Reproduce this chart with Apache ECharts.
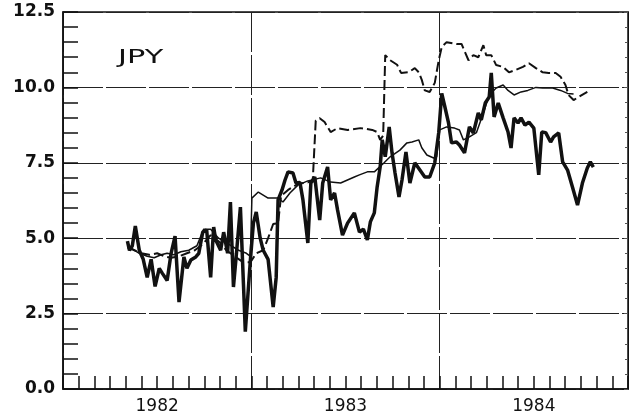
<!DOCTYPE html>
<html>
<head>
<meta charset="utf-8">
<script src="https://cdn.jsdelivr.net/npm/echarts@6/dist/echarts.min.js"></script>
<style>
html,body{margin:0;padding:0;background:#fff;}
#chart{width:631px;height:420px;}
</style>
</head>
<body>
<div id="chart"></div>
<script>
// Decimal-year time stamps and values
var yearTicks = [1982, 1983, 1984];
var thickSeries = [
[1982.342,4.9],[1982.353,4.6],[1982.368,4.75],[1982.384,5.4],[1982.405,4.6],[1982.426,4.3],
[1982.447,3.7],[1982.468,4.3],[1982.489,3.4],[1982.511,4.0],[1982.526,3.85],[1982.553,3.6],
[1982.574,4.5],[1982.595,5.07],[1982.616,2.88],[1982.642,4.38],[1982.658,4.0],[1982.679,4.28],
[1982.705,4.38],[1982.721,4.5],[1982.742,5.2],[1982.763,5.27],[1982.784,3.7],[1982.800,5.37],
[1982.811,4.94],[1982.837,4.6],[1982.853,5.2],[1982.874,4.5],[1982.889,6.2],[1982.905,3.38],
[1982.921,4.5],[1982.942,6.03],[1982.958,3.5],[1982.968,1.9],[1982.995,4.28],[1983.011,5.5],
[1983.026,5.87],[1983.047,5.0],[1983.063,4.6],[1983.089,4.3],[1983.116,2.72],[1983.132,3.7],
[1983.142,6.27],[1983.163,6.6],[1983.179,6.93],[1983.195,7.2],[1983.221,7.16],[1983.237,6.83],
[1983.258,6.85],[1983.274,6.27],[1983.300,4.84],[1983.316,6.83],[1983.337,7.03],[1983.363,5.6],
[1983.379,6.83],[1983.405,7.36],[1983.421,6.27],[1983.442,6.5],[1983.458,5.93],[1983.484,5.1],
[1983.511,5.5],[1983.547,5.84],[1983.574,5.2],[1983.595,5.3],[1983.616,4.94],[1983.632,5.54],
[1983.653,5.84],[1983.668,6.7],[1983.684,7.36],[1983.695,8.26],[1983.711,7.7],[1983.732,8.69],
[1983.747,7.83],[1983.763,7.16],[1983.784,6.37],[1983.800,6.93],[1983.821,7.86],[1983.842,6.83],
[1983.868,7.5],[1983.895,7.26],[1983.921,7.03],[1983.947,7.03],[1983.974,7.5],[1983.995,8.5],
[1984.011,9.8],[1984.026,9.4],[1984.047,8.82],[1984.063,8.16],[1984.089,8.19],[1984.105,8.09],
[1984.132,7.83],[1984.158,8.69],[1984.179,8.49],[1984.205,9.15],[1984.221,8.92],[1984.242,9.48],
[1984.263,9.68],[1984.274,10.48],[1984.289,9.02],[1984.311,9.48],[1984.337,8.99],[1984.363,8.52],
[1984.379,7.99],[1984.395,8.99],[1984.416,8.82],[1984.432,8.99],[1984.453,8.75],[1984.474,8.85],
[1984.500,8.65],[1984.526,7.1],[1984.542,8.52],[1984.563,8.5],[1984.589,8.19],[1984.605,8.36],
[1984.632,8.49],[1984.653,7.53],[1984.679,7.26],[1984.705,6.7],[1984.732,6.1],[1984.758,6.83],
[1984.784,7.33],[1984.800,7.53],[1984.816,7.36]
];
var thinSeries = [
[1982.342,4.8],[1982.368,4.65],[1982.405,4.5],[1982.447,4.4],[1982.484,4.35],[1982.521,4.45],
[1982.553,4.5],[1982.589,4.45],[1982.626,4.55],[1982.668,4.6],[1982.711,4.75],[1982.747,5.3],
[1982.784,5.3],[1982.826,5.0],[1982.879,4.8],[1982.932,4.6],[1982.974,4.5],[1982.995,4.4],
[1983.003,6.33],[1983.037,6.53],[1983.089,6.33],[1983.142,6.33],[1983.168,6.2],[1983.205,6.5],
[1983.247,6.76],[1983.300,6.9],[1983.368,7.0],[1983.421,6.86],[1983.474,6.83],[1983.547,7.03],
[1983.574,7.1],[1983.616,7.2],[1983.653,7.2],[1983.705,7.5],[1983.737,7.7],[1983.789,7.92],
[1983.826,8.16],[1983.853,8.19],[1983.889,8.26],[1983.905,8.0],[1983.932,7.76],[1983.968,7.66],
[1983.984,7.7],[1984.000,8.59],[1984.037,8.69],[1984.079,8.65],[1984.105,8.59],[1984.126,8.26],
[1984.158,8.36],[1984.195,8.5],[1984.232,9.15],[1984.263,9.75],[1984.300,9.98],[1984.337,10.08],
[1984.363,9.9],[1984.395,9.75],[1984.432,9.85],[1984.468,9.9],[1984.511,10.0],[1984.547,9.98],
[1984.600,9.98],[1984.642,9.9],[1984.679,9.8],[1984.711,9.78]
];
var dashedSeries = [
[1982.342,4.7],[1982.379,4.6],[1982.416,4.5],[1982.458,4.45],[1982.500,4.5],[1982.537,4.4],
[1982.574,4.35],[1982.616,4.4],[1982.658,4.5],[1982.700,4.6],[1982.742,4.8],[1982.784,5.1],
[1982.826,4.9],[1982.868,4.6],[1982.911,4.4],[1982.958,4.2],[1982.995,4.2],[1983.026,4.5],
[1983.063,4.6],[1983.089,5.0],[1983.116,5.47],[1983.142,5.5],[1983.158,6.4],[1983.195,6.6],
[1983.247,6.8],[1983.300,6.85],[1983.326,6.9],[1983.342,8.9],[1983.363,8.98],[1983.389,8.85],
[1983.421,8.52],[1983.458,8.65],[1983.511,8.59],[1983.579,8.65],[1983.642,8.59],[1983.668,8.52],
[1983.684,8.26],[1983.700,8.4],[1983.711,11.07],[1983.737,10.9],[1983.774,10.75],[1983.795,10.48],
[1983.837,10.51],[1983.868,10.64],[1983.889,10.5],[1983.905,10.25],[1983.921,9.9],[1983.947,9.85],
[1983.974,10.15],[1983.995,10.9],[1984.011,11.34],[1984.037,11.5],[1984.089,11.44],[1984.116,11.44],
[1984.153,10.9],[1984.179,11.07],[1984.205,11.0],[1984.232,11.4],[1984.247,11.07],[1984.274,11.07],
[1984.300,10.74],[1984.337,10.68],[1984.368,10.5],[1984.405,10.58],[1984.442,10.68],[1984.474,10.8],
[1984.511,10.64],[1984.547,10.5],[1984.579,10.48],[1984.616,10.48],[1984.642,10.35],[1984.668,10.08],
[1984.684,9.75],[1984.711,9.58],[1984.737,9.68],[1984.784,9.85]
];
var yMin = 0, yMax = 12.5, yStep = 2.5;
var seriesLabel = 'JPY';

var ink = '#111';
var chart = echarts.init(document.getElementById('chart'), null, {renderer:'canvas'});
chart.setOption({
  animation:false,
  backgroundColor:'#fff',
  grid:{left:63, right:1, top:12, bottom:31, show:true, borderColor:ink, borderWidth:1.5},
  xAxis:[
    {type:'value', min:yearTicks[0], max:yearTicks[yearTicks.length-1]+1, interval:1,
     axisLine:{show:true, lineStyle:{color:ink, width:1.5}},
     axisTick:{show:true, inside:true, length:13, lineStyle:{color:ink, width:1.5}},
     minorTick:{show:true, splitNumber:12, length:13, lineStyle:{color:ink, width:1.5}},
     splitLine:{show:true, lineStyle:{color:'#222', width:1, type:[40,3]}},
     axisLabel:{show:false}},
    {type:'value', position:'bottom', min:yearTicks[0], max:yearTicks[yearTicks.length-1]+1, interval:0.5,
     axisLine:{show:false}, axisTick:{show:false}, splitLine:{show:false},
     axisLabel:{show:true, margin:9, color:ink, fontFamily:'DejaVu Sans', fontSize:17,
       formatter:function(v){ return (Math.abs(v%1-0.5)<1e-6) ? String(Math.floor(v)) : ''; }}}
  ],
  yAxis:[
    {type:'value', min:yMin, max:yMax, interval:yStep,
     axisLine:{show:true, lineStyle:{color:ink, width:1.5}},
     axisTick:{show:true, inside:true, length:15, lineStyle:{color:ink, width:1.5}},
     minorTick:{show:true, splitNumber:5, length:15, lineStyle:{color:ink, width:1.5}},
     splitLine:{show:true, lineStyle:{color:'#222', width:1, type:[40,3]}},
     axisLabel:{show:true, margin:8, color:ink, fontFamily:'DejaVu Sans', fontWeight:'bold', fontSize:17,
       formatter:function(v){ return v.toFixed(1); }}},
    {type:'value', position:'right', min:yMin, max:yMax, interval:yStep,
     axisLine:{show:true, lineStyle:{color:ink, width:1}},
     axisTick:{show:true, inside:true, length:4, lineStyle:{color:'#555', width:1}},
     minorTick:{show:true, splitNumber:5, length:3, lineStyle:{color:'#555', width:1}},
     splitLine:{show:false}, axisLabel:{show:false}}
  ],
  graphic:[
    {type:'text', left:118, top:49, scaleX:1.6, silent:true,
     style:{text:seriesLabel, fill:ink, font:'19px "DejaVu Sans"'}}
  ],
  series:[
    {type:'line', data:dashedSeries, showSymbol:false, lineStyle:{color:ink, width:2, type:[10,4]}, z:3},
    {type:'line', data:thinSeries, showSymbol:false, lineStyle:{color:ink, width:1.5}, z:4},
    {type:'line', data:thickSeries, showSymbol:false, lineStyle:{color:ink, width:3.5}, z:5}
  ]
});
</script>
</body>
</html>
